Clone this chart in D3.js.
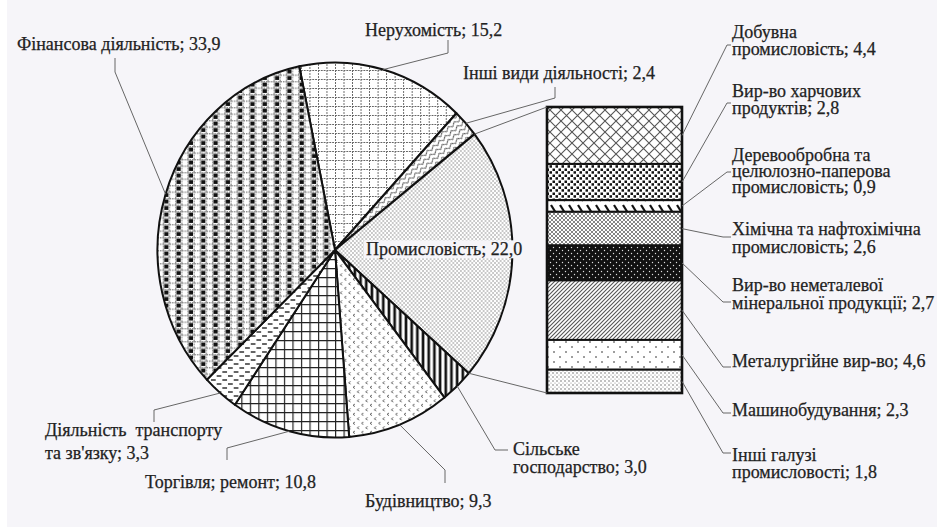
<!DOCTYPE html>
<html>
<head>
<meta charset="utf-8">
<script src="https://cdn.jsdelivr.net/npm/d3@7"></script>
<style>
  body { margin: 0; background: #f6f5f9; }
  svg { display: block; }
</style>
</head>
<body>
<script>
// Pie data (clockwise from the top)
var pieNames = [["Нерухомість"], ["Інші види діяльності"], ["Промисловість"], ["Сільське", "господарство"],
                ["Будівництво"], ["Торгівля; ремонт"], ["Діяльність  транспорту", "та зв'язку"], ["Фінансова діяльність"]];
var pieValues = [15.2, 2.4, 22.0, 3.0, 9.3, 10.8, 3.3, 33.9];

// Breakdown of the industry slice
var barNames = [["Добувна", "промисловість"], ["Вир-во харчових", "продуктів"],
                ["Деревообробна та", "целюлозно-паперова", "промисловість"], ["Хімічна та нафтохімічна", "промисловість"],
                ["Вир-во неметалевої", "мінеральної продукції"], ["Металургійне вир-во"], ["Машинобудування"],
                ["Інші галузі", "промисловості"]];
var barValues = [4.4, 2.8, 0.9, 2.6, 2.7, 4.6, 2.3, 1.8];

var fmt = function(v) { return d3.format(".1f")(v).replace(".", ","); };

// layout
var width = 937, height = 527;
var cx = 335, cy = 250, ry = 187.5, rx = 177.5;
var startDeg = -11.6;
var bar = {x0: 547, x1: 682, y0: 107, y1: 393};

var pieLayout = [
  {x: 365, y: 30, gap: 18, elbow: [448, 53], end: [448, 40]},
  {x: 463, y: 73, gap: 18, elbow: [555, 98], end: [555, 87]},
  {x: 366, y: 249, gap: 18, box: true},
  {x: 513, y: 449, gap: 18, elbow: [495, 450], end: [508, 450]},
  {x: 365, y: 501, gap: 18, elbow: [445, 470], end: [445, 483]},
  {x: 145, y: 482, gap: 18, elbow: [227, 448], end: [227, 460]},
  {x: 45, y: 430, gap: 23, elbow: [154, 410], end: [154, 422]},
  {x: 17, y: 44, gap: 18, elbow: [115, 72], end: [115, 58]}
];
var barLayout = [
  {y: 32, gap: 16.5, elbow: [727, 45]},
  {y: 91, gap: 16.5, elbow: [727, 103]},
  {y: 155, gap: 16, elbow: [727, 172]},
  {y: 229, gap: 18, elbow: [723, 237]},
  {y: 285, gap: 18, elbow: [723, 302]},
  {y: 361, gap: 18, elbow: [723, 367]},
  {y: 410, gap: 18, elbow: [723, 413]},
  {y: 455, gap: 17, elbow: [723, 453]}
];

var svg = d3.select("body").append("svg")
    .attr("width", width)
    .attr("height", height);

svg.append("rect").attr("width", width).attr("height", height).attr("fill", "#f6f5f9");
svg.append("rect").attr("width", 7).attr("height", height).attr("fill", "#ffffff");

// ---- fill patterns ----
var defs = svg.append("defs");
function pattern(id, w, h, draw, tr) {
  var p = defs.append("pattern")
      .attr("id", id)
      .attr("patternUnits", "userSpaceOnUse")
      .attr("width", w).attr("height", h);
  if (tr) p.attr("patternTransform", tr);
  p.append("rect").attr("width", w).attr("height", h).attr("fill", "#fff");
  draw(p);
}
function dot(p, x, y, r, c) { p.append("circle").attr("cx", x).attr("cy", y).attr("r", r).attr("fill", c); }
function ln(p, d, c, w, dash) {
  var l = p.append("path").attr("d", d).attr("stroke", c).attr("stroke-width", w).attr("fill", "none");
  if (dash) l.attr("stroke-dasharray", dash);
}

// finance: black/white cells on a grey grid
pattern("pFin", 13, 6.5, function(p) {
  p.append("rect").attr("x", 1.5).attr("y", 1.5).attr("width", 4.5).attr("height", 4).attr("fill", "#111");
  ln(p, "M0,0.7H13", "#8a8a8a", 1.5, "1.5,1");
  ln(p, "M0.7,0V6.5M7.2,0V6.5", "#8a8a8a", 1.4, "1.5,1");
});
// real estate: dotted grid
pattern("pReal", 9, 9, function(p) {
  ln(p, "M0,0.5H9M0.5,0V9", "#666", 1, "2,1");
});
// other activities: waves
pattern("pWave", 8, 5, function(p) {
  ln(p, "M0,3 Q2,0 4,3 T8,3", "#444", 1);
}, "rotate(-38)");
// industry: fine dots
pattern("pInd", 4, 4, function(p) {
  dot(p, 1, 1, 0.75, "#777");
  dot(p, 3, 3, 0.75, "#777");
});
// agriculture: thick stripes
pattern("pAgr", 6, 6, function(p) {
  ln(p, "M3,0V6", "#111", 2.8);
});
// construction: small chevrons
pattern("pCon", 9, 9, function(p) {
  ln(p, "M3,1 L1,2.3 L3,3.6", "#555", 0.9);
  ln(p, "M7.5,5.5 L5.5,6.8 L7.5,8.1", "#555", 0.9);
});
// trade: grid
pattern("pTrade", 9, 9, function(p) {
  ln(p, "M0,0.6H9M0.6,0V9", "#222", 1.3);
});
// transport: dashes
pattern("pTrans", 12, 8, function(p) {
  ln(p, "M1,2H6", "#222", 1.4);
  ln(p, "M7,6H12", "#222", 1.4);
});

// bar patterns
pattern("b0", 11, 11, function(p) {
  ln(p, "M0,0L11,11M11,0L0,11", "#555", 1.1);
});
pattern("b1", 6, 6, function(p) {
  p.append("rect").attr("x", 0.5).attr("y", 0.5).attr("width", 2.5).attr("height", 2.5).attr("fill", "#111");
  p.append("rect").attr("x", 3.5).attr("y", 3.2).attr("width", 2.5).attr("height", 2.5).attr("fill", "#111");
});
pattern("b2", 9, 12, function(p) {
  ln(p, "M2,1L7,9", "#111", 2.2);
});
pattern("b3", 4, 4, function(p) {
  ln(p, "M0,0L4,4M4,0L0,4", "#777", 0.9);
});
pattern("b4", 6, 6, function(p) {
  p.append("rect").attr("width", 6).attr("height", 6).attr("fill", "#111");
  dot(p, 1.5, 1.5, 0.7, "#ddd");
  dot(p, 4.5, 4.5, 0.7, "#ddd");
});
pattern("b5", 4, 4, function(p) {
  ln(p, "M-1,5L5,-1M-1,1L1,-1M3,5L5,3", "#555", 1.1);
});
pattern("b6", 12, 10, function(p) {
  dot(p, 2, 2, 0.8, "#222");
  dot(p, 8, 7, 0.8, "#222");
});
pattern("b7", 4, 4, function(p) {
  dot(p, 1, 1, 0.7, "#555");
  dot(p, 3, 3, 0.6, "#888");
});

var pieFills = ["pReal", "pWave", "pInd", "pAgr", "pCon", "pTrade", "pTrans", "pFin"];
var barFills = ["b0", "b1", "b2", "b3", "b4", "b5", "b6", "b7"];

// ---- pie ----
var a0 = startDeg * Math.PI / 180;
var pie = d3.pie().sort(null).startAngle(a0).endAngle(a0 + 2 * Math.PI);
var arcs = pie(pieValues);
var arc = d3.arc().innerRadius(0).outerRadius(ry);

function edge(a) {
  return [cx + rx * Math.sin(a), cy - ry * Math.cos(a)];
}

svg.append("g")
    .attr("transform", "translate(" + cx + "," + cy + ") scale(" + (rx / ry) + ",1)")
  .selectAll("path")
  .data(arcs)
  .enter().append("path")
    .attr("d", arc)
    .attr("fill", function(d, i) { return "url(#" + pieFills[i] + ")"; })
    .attr("stroke", "#111")
    .attr("stroke-width", 2)
    .attr("stroke-linejoin", "round")
    .attr("vector-effect", "non-scaling-stroke");

// ---- bar of the industry slice ----
var barTotal = d3.sum(barValues);
var y = d3.scaleLinear().domain([0, barTotal]).range([bar.y0, bar.y1]);
var cum = 0;
var segs = barValues.map(function(v) { var s = {a: cum, b: cum + v}; cum += v; return s; });

svg.append("g").selectAll("rect")
  .data(segs)
  .enter().append("rect")
    .attr("x", bar.x0)
    .attr("y", function(d) { return y(d.a); })
    .attr("width", bar.x1 - bar.x0)
    .attr("height", function(d) { return y(d.b) - y(d.a); })
    .attr("fill", function(d, i) { return "url(#" + barFills[i] + ")"; })
    .attr("stroke", "#111")
    .attr("stroke-width", 2);
svg.append("rect")
    .attr("x", bar.x0).attr("y", bar.y0)
    .attr("width", bar.x1 - bar.x0).attr("height", bar.y1 - bar.y0)
    .attr("fill", "none").attr("stroke", "#111").attr("stroke-width", 2.6);

// connector lines from the industry slice to the bar
var ind = arcs[2];
var line = d3.line();
var conn = svg.append("g").attr("stroke", "#666").attr("stroke-width", 1).attr("fill", "none");
conn.append("path").attr("d", line([edge(ind.startAngle), [bar.x0, bar.y0]]));
conn.append("path").attr("d", line([edge(ind.endAngle), [bar.x0, bar.y1]]));

// ---- leader lines ----
var leaders = svg.append("g").attr("stroke", "#666").attr("stroke-width", 1).attr("fill", "none");
arcs.forEach(function(d, i) {
  var L = pieLayout[i];
  if (!L.elbow) return;
  var mid = (d.startAngle + d.endAngle) / 2;
  leaders.append("path").attr("d", line([edge(mid), L.elbow, L.end]));
});
segs.forEach(function(d, i) {
  var L = barLayout[i];
  var ym = y((d.a + d.b) / 2);
  leaders.append("path").attr("d", line([[bar.x1, ym], L.elbow, [731, L.elbow[1]]]));
});

// ---- labels ----
function label(g, x, y0, gap, lines, value) {
  var t = g.append("text")
      .attr("x", x).attr("y", y0)
      .style("font-family", "'Liberation Serif', 'Times New Roman', serif")
      .style("font-size", "18px")
      .style("fill", "#222")
      .style("stroke", "#222")
      .style("stroke-width", "0.25px")
      .style("white-space", "pre");
  lines.forEach(function(s, j) {
    var txt = s + (j === lines.length - 1 ? "; " + fmt(value) : "");
    t.append("tspan").attr("x", x).attr("y", y0 + j * gap).attr("dy", "0.35em").text(txt);
  });
  return t;
}
var labels = svg.append("g");
pieNames.forEach(function(n, i) {
  var L = pieLayout[i];
  if (L.box) {
    var bg = labels.append("rect").attr("fill", "#f6f5f9");
    var t = label(labels, L.x, L.y, L.gap, n, pieValues[i]);
    var bb = t.node().getBBox();
    bg.attr("x", bb.x - 2).attr("y", bb.y + 1).attr("width", bb.width + 4).attr("height", bb.height - 2);
  } else {
    label(labels, L.x, L.y, L.gap, n, pieValues[i]);
  }
});
barNames.forEach(function(n, i) {
  var L = barLayout[i];
  label(labels, 732, L.y, L.gap, n, barValues[i]);
});
</script>
</body>
</html>
